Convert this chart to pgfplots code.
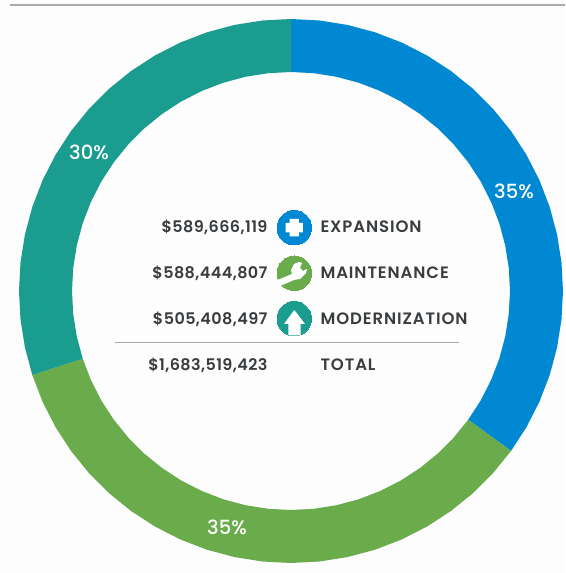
\documentclass[border=0pt]{standalone}
\usepackage{pgfplots}
\pgfplotsset{compat=1.18}
\usepackage{fontspec}
\setmainfont{Poppins}[UprightFont=* Medium,BoldFont=* SemiBold]
\newfontface\lbl{Poppins SemiBold}[LetterSpace=5.5]
\newfontface\amt{Poppins SemiBold}[LetterSpace=2.5]
\definecolor{cblue}{HTML}{0088D2}
\definecolor{cgreen}{HTML}{6AAB4C}
\definecolor{cteal}{HTML}{1A9C8F}
\definecolor{ctext}{HTML}{3A3D40}
\definecolor{cbg}{HTML}{FDFDFD}
\definecolor{crule}{HTML}{ABABAB}
\begin{document}
\begin{tikzpicture}
\begin{axis}[
  hide axis, scale only axis, width=565pt, height=573pt,
  xmin=-291, xmax=274, ymin=-282, ymax=291,
  clip=false, clip mode=individual,
]
% background
\addplot[fill=cbg, draw=none, forget plot] coordinates {(-291,-282) (274,-282) (274,291) (-291,291)} -- cycle;
% top rule
\addplot[crule, line width=1.4pt] coordinates {(-281,286) (274,286)};
% ring segments: (angle, radius)
\addplot[fill=cblue, draw=none, data cs=polar] coordinates {
(90,272)(84,272)(78,272)(72,272)(66,272)(60,272)(54,272)(48,272)(42,272)(36,272)(30,272)(24,272)(18,272)(12,272)(6,272)(0,272)(-6,272)(-12,272)(-18,272)(-24,272)(-30,272)(-36,272)
(-36,219)(-30,219)(-24,219)(-18,219)(-12,219)(-6,219)(0,219)(6,219)(12,219)(18,219)(24,219)(30,219)(36,219)(42,219)(48,219)(54,219)(60,219)(66,219)(72,219)(78,219)(84,219)(90,219)
} -- cycle;
\addplot[fill=cgreen, draw=none, data cs=polar] coordinates {
(-36,272)(-42,272)(-48,272)(-54,272)(-60,272)(-66,272)(-72,272)(-78,272)(-84,272)(-90,272)(-96,272)(-102,272)(-108,272)(-114,272)(-120,272)(-126,272)(-132,272)(-138,272)(-144,272)(-150,272)(-156,272)(-162,272)
(-162,219)(-156,219)(-150,219)(-144,219)(-138,219)(-132,219)(-126,219)(-120,219)(-114,219)(-108,219)(-102,219)(-96,219)(-90,219)(-84,219)(-78,219)(-72,219)(-66,219)(-60,219)(-54,219)(-48,219)(-42,219)(-36,219)
} -- cycle;
\addplot[fill=cteal, draw=none, data cs=polar] coordinates {
(-162,272)(-168,272)(-174,272)(-180,272)(-186,272)(-192,272)(-198,272)(-204,272)(-210,272)(-216,272)(-222,272)(-228,272)(-234,272)(-240,272)(-246,272)(-252,272)(-258,272)(-264,272)(-270,272)
(-270,219)(-264,219)(-258,219)(-252,219)(-246,219)(-240,219)(-234,219)(-228,219)(-222,219)(-216,219)(-210,219)(-204,219)(-198,219)(-192,219)(-186,219)(-180,219)(-174,219)(-168,219)(-162,219)
} -- cycle;
% icons
\addplot[only marks, mark=*, mark size=17.3pt, mark options={draw=cblue, line width=0pt, fill=cblue}] coordinates {(3.3,63.3)};
\addplot[only marks, mark=*, mark size=17.3pt, mark options={draw=cgreen, line width=0pt, fill=cgreen}] coordinates {(3.3,17.7)};
\addplot[only marks, mark=*, mark size=17.3pt, mark options={draw=cteal, line width=0pt, fill=cteal}] coordinates {(3.3,-27.7)};
\addplot[fill=white, draw=none] coordinates {(-1.3,72)(7.9,72)(7.9,68)(11.9,68)(11.9,58.6)(7.9,58.6)(7.9,54.6)(-1.3,54.6)(-1.3,58.6)(-5.3,58.6)(-5.3,68)(-1.3,68)} -- cycle;
\addplot[fill=white, draw=none] coordinates {(3.3,-19)(14,-33)(9.7,-33)(9.7,-44.5)(-2.7,-44.5)(-2.7,-33)(-7,-33)} -- cycle;
% wrench
\addplot[fill=white, draw=none] coordinates {(-13.5,11)(-11,5)(3,11)(9,12)(15,18)(16,22)(12,20)(9,23)(11,28)(8,29)(3,27)(0,21)(1,17)} -- cycle;
% rule in the middle
\addplot[crule, line width=1pt] coordinates {(-176,-52) (168,-52)};
% labels
\node[anchor=east, text=ctext, font=\fontsize{16pt}{18pt}\amt] at (axis cs:-20,64) {\$589,666,119};
\node[anchor=east, text=ctext, font=\fontsize{16pt}{18pt}\amt] at (axis cs:-20,18) {\$588,444,807};
\node[anchor=east, text=ctext, font=\fontsize{16pt}{18pt}\amt] at (axis cs:-20,-28) {\$505,408,497};
\node[anchor=east, text=ctext, font=\fontsize{16pt}{18pt}\amt] at (axis cs:-20,-74) {\$1,683,519,423};
\node[anchor=west, text=ctext, font=\fontsize{16.5pt}{18pt}\lbl] at (axis cs:26,64) {EXPANSION};
\node[anchor=west, text=ctext, font=\fontsize{16.5pt}{18pt}\lbl] at (axis cs:26,18) {MAINTENANCE};
\node[anchor=west, text=ctext, font=\fontsize{16.5pt}{18pt}\lbl] at (axis cs:26,-28) {MODERNIZATION};
\node[anchor=west, text=ctext, font=\fontsize{16.5pt}{18pt}\lbl] at (axis cs:26,-74) {TOTAL};
\node[text=white, font=\fontsize{19.5pt}{21pt}\selectfont] at (axis cs:223,100) {35\%};
\node[text=white, font=\fontsize{19.5pt}{21pt}\selectfont] at (axis cs:-64,-236) {35\%};
\node[text=white, font=\fontsize{19.5pt}{21pt}\selectfont] at (axis cs:-202,139) {30\%};
\end{axis}
\end{tikzpicture}
\end{document}
